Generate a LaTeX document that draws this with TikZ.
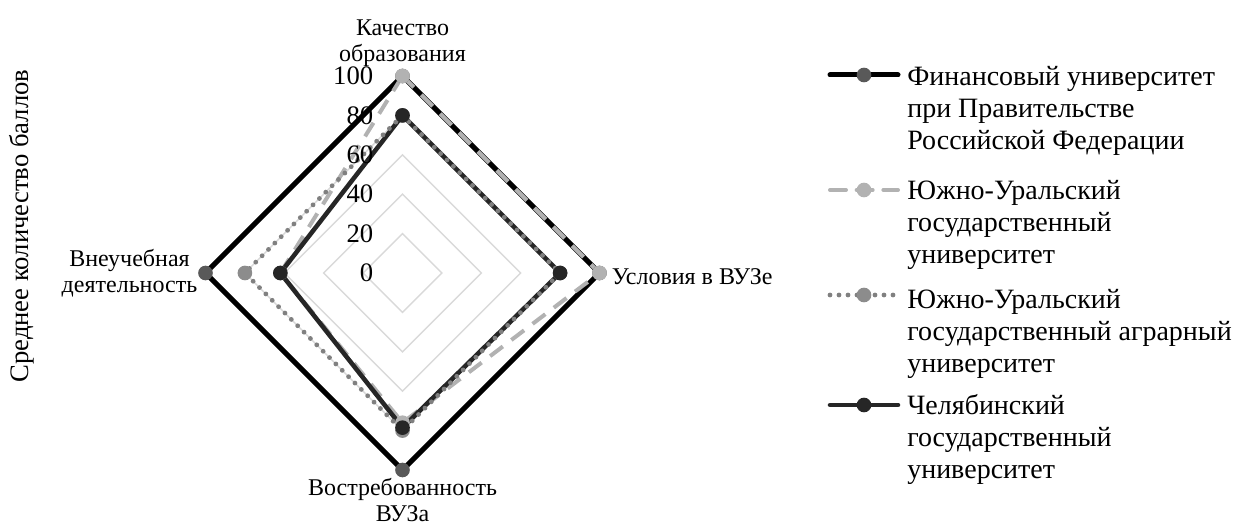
\documentclass[tikz,border=0pt]{standalone}
\usepackage{fontspec}
\setmainfont{Liberation Serif}
\usetikzlibrary{positioning, calc}

\begin{document}
\begin{tikzpicture}[x = 0.75pt, y = 0.75pt, font = \fontsize{18}{19.5}\selectfont,
  grid/.style = {draw = black!15, line width = 1.1pt},
  fin/.style = {draw = black, line width = 3.75pt},
  susu/.style = {draw = black!30, line width = 3pt, dash pattern = on 12pt off 8pt},
  agr/.style = {draw = black!50, line width = 3.6pt, line cap = round, dash pattern = on 0pt off 6.75pt},
  chel/.style = {draw = black!85, line width = 3.4pt, line join = round},
  dot/.style = {circle, inner sep = 0pt, minimum size = 11pt},
  key/.style = {anchor = base west, align = left, inner sep = 0pt, font = \fontsize{21}{24}\selectfont}]
  \useasboundingbox (0, 0) rectangle (1237, -530);
  \coordinate (center) at (402.5, -273);

  % grid
  \begin{scope}[shift = {(center)}]
    \foreach \v in {20, 40, 60, 80, 100} {
      \pgfmathsetmacro\r{1.97*\v}
      \draw[grid] (90:\r) -- (0:\r) -- (-90:\r) -- (180:\r) -- cycle;
    }

    % series: top, right, bottom, left
    \foreach \s/\a/\b/\c/\d/\m in {fin/100/100/100/100/black!65, susu/100/100/76/62/black!30,
                                  chel/80/80/78.5/62/black!85, agr/80/80/80/80/black!45} {
      \pgfmathsetmacro\ra{1.97*\a}
      \pgfmathsetmacro\rb{1.97*\b}
      \pgfmathsetmacro\rc{1.97*\c}
      \pgfmathsetmacro\rd{1.97*\d}
      \coordinate (\s-top) at (90:\ra);
      \coordinate (\s-right) at (0:\rb);
      \coordinate (\s-bottom) at (-90:\rc);
      \coordinate (\s-left) at (180:\rd);
      \draw[\s] (\s-top) -- (\s-right) -- (\s-bottom) -- (\s-left) -- cycle;
    }
    \foreach \s/\m in {fin/black!65, susu/black!30, agr/black!45, chel/black!85}
      \foreach \p in {top, right, bottom, left}
        \node[dot, fill = \m] at (\s-\p) {};
  \end{scope}

  % scale
  \foreach \v in {0, 20, 40, 60, 80, 100}
    \node[anchor = east, inner sep = 0pt, font = \fontsize{20}{22}\selectfont] at ($(center) + (-29, 1.97*\v)$) {\v};

  % axis labels
  \node (quality) [above = 7pt of fin-top, align = center, inner sep = 0pt] {Качество\\образования};
  \node (conditions) [right = 9pt of fin-right, inner sep = 0pt, yshift = -3pt] {Условия в ВУЗе};
  \node (demand) [below = 6pt of fin-bottom, align = center, inner sep = 0pt] {Востребованность\\ВУЗа};
  \node (extra) [left = 6pt of fin-left, align = center, inner sep = 0pt] {Внеучебная\\деятельность};

  \node (ytitle) [rotate = 90, font = \fontsize{20}{24}\selectfont] at (22, -226) {Среднее количество баллов};

  % legend
  \foreach \s/\y/\m in {fin/75/black!65, susu/190/black!30, agr/295/black!45, chel/405/black!85} {
    \coordinate (\s-a) at (830, -\y);
    \coordinate (\s-b) at (898, -\y);
    \draw[\s, line cap = round] (\s-a) -- (\s-b);
    \node[dot, fill = \m] at ($(\s-a)!0.5!(\s-b)$) {};
  }
  \node (fin-key) [key] at (907, -150) {Финансовый университет\\при Правительстве\\Российской Федерации};
  \node (susu-key) [key] at (907, -264) {Южно-Уральский\\государственный\\университет};
  \node (agr-key) [key] at (907, -373) {Южно-Уральский\\государственный аграрный\\университет};
  \node (chel-key) [key] at (907, -478) {Челябинский\\государственный\\университет};
\end{tikzpicture}
\end{document}
